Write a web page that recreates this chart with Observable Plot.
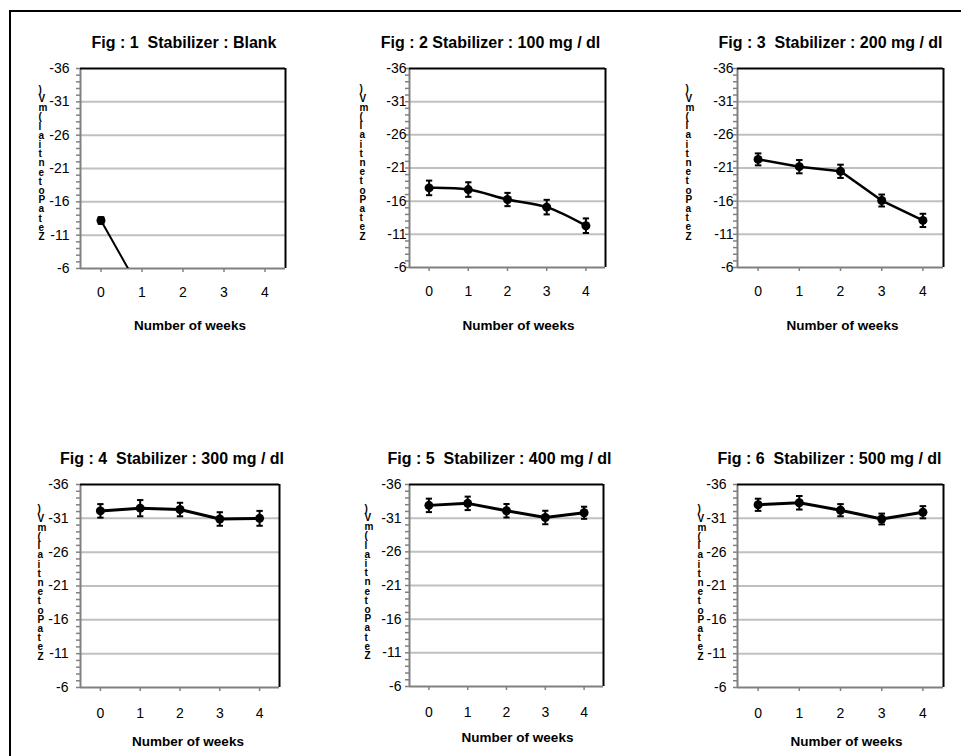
<!DOCTYPE html>
<html>
<head>
<meta charset="utf-8">
<script src="https://cdn.jsdelivr.net/npm/d3@7"></script>
<script src="https://cdn.jsdelivr.net/npm/@observablehq/plot@0.6"></script>
<style>
  html, body { margin: 0; padding: 0; background: #fff; overflow: hidden; }
  #wrap { position: relative; width: 961px; height: 756px; overflow: hidden; background: #fff; }
  #border { position: absolute; left: 9px; top: 10px; width: 1000px; height: 800px; border: 2px solid #000; }
  .panel { position: absolute; }
</style>
</head>
<body>
<div id="wrap"><div id="border"></div></div>
<script>
// ---- data ----
const weeks = [0, 1, 2, 3, 4];
const yTicks = [-36, -31, -26, -21, -16, -11, -6];
const gridValues = [-31, -26, -21, -16, -11];
const yLabel = "Zeta Potential (mV)";
const xLabel = "Number of weeks";

const titles = [
  "Fig : 1  Stabilizer : Blank",
  "Fig : 2 Stabilizer : 100 mg / dl",
  "Fig : 3  Stabilizer : 200 mg / dl",
  "Fig : 4  Stabilizer : 300 mg / dl",
  "Fig : 5  Stabilizer : 400 mg / dl",
  "Fig : 6  Stabilizer : 500 mg / dl"
];

const blankWeeks = [0, 1];
const blankZeta = [-13.2, -2.3];
const blankErr = [0.5, 0.5];

const zeta100 = [-18.0, -17.75, -16.25, -15.1, -12.3];
const err100 = [1.1, 1.1, 1.0, 1.1, 1.1];

const zeta200 = [-22.3, -21.2, -20.5, -16.1, -13.1];
const err200 = [0.9, 1.0, 1.0, 0.9, 1.0];

const zeta300 = [-32.1, -32.5, -32.3, -30.9, -31.0];
const err300 = [1.0, 1.2, 1.0, 1.0, 1.1];

const zeta400 = [-32.9, -33.2, -32.1, -31.1, -31.8];
const err400 = [1.0, 1.0, 1.0, 1.0, 0.9];

const zeta500 = [-33.0, -33.3, -32.2, -30.9, -31.9];
const err500 = [0.9, 1.0, 0.9, 0.8, 0.9];

const series = [
  {w: blankWeeks, z: blankZeta, e: blankErr},
  {w: weeks, z: zeta100, e: err100},
  {w: weeks, z: zeta200, e: err200},
  {w: weeks, z: zeta300, e: err300},
  {w: weeks, z: zeta400, e: err400},
  {w: weeks, z: zeta500, e: err500}
];

// ---- layout (positions/styles) ----
const layout = [
  {sx: 0,   sy: 0,   h: 345, ml: 80, mr: 35, mt: 68, mb: 77, pad: 11, xpad: 15, tdx: 1,   tdy: -26, xdx: 7,  xdy: 57, ldx: -42, ldy: -5, curve: "linear", sw: 2},
  {sx: 320, sy: 0,   h: 345, ml: 89, mr: 35, mt: 68, mb: 78, pad: 3,  xpad: 15, tdx: -17, tdy: -26, xdx: 11, xdy: 58, ldx: -50, ldy: -5, curve: "catmull-rom", sw: 2.5},
  {sx: 640, sy: 0,   h: 345, ml: 97, mr: 17, mt: 68, mb: 78, pad: 4,  xpad: 15, tdx: -10, tdy: -26, xdx: 2,  xdy: 58, ldx: -52, ldy: -5, curve: "linear", sw: 2.5},
  {sx: 0,   sy: 420, h: 336, ml: 80, mr: 41, mt: 64, mb: 69, pad: 12, xpad: 17, tdx: -8,  tdy: -26, xdx: 8,  xdy: 54, ldx: -43, ldy: -3, curve: "linear", sw: 3},
  {sx: 320, sy: 420, h: 336, ml: 89, mr: 37, mt: 64, mb: 70, pad: 8,  xpad: 17, tdx: -7,  tdy: -26, xdx: 11, xdy: 51, ldx: -45, ldy: -3, curve: "linear", sw: 3},
  {sx: 640, sy: 420, h: 336, ml: 97, mr: 17, mt: 64, mb: 69, pad: 11, xpad: 17, tdx: -11, tdy: -26, xdx: 6,  xdy: 54, ldx: -40, ldy: -3, curve: "linear", sw: 3}
];

const stacked = yLabel.replace(/\s/g, "").split("").reverse().join("\n");
const font = "'Liberation Sans', Arial, Helvetica, sans-serif";
const wrap = document.getElementById("wrap");

series.forEach((s, i) => {
  const L = layout[i];
  const rows = s.w.map((w, k) => ({week: w, zeta: s.z[k], err: s.e[k]}));
  const chart = Plot.plot({
    width: 320,
    height: L.h,
    marginLeft: L.ml, marginRight: L.mr, marginTop: L.mt, marginBottom: L.mb,
    x: {domain: [-0.5, 4.5], axis: null},
    y: {domain: [-36, -6], reverse: true, axis: null},
    style: {fontFamily: font, fontSize: "14px", color: "#000", background: "transparent", overflow: "visible"},
    marks: [
      Plot.ruleY(gridValues, {stroke: "#c0c0c0", strokeWidth: 2}),
      Plot.axisY({ticks: d3.range(-36, -5, 1), tickSize: 4, tickFormat: () => "", label: null, stroke: "#808080", strokeWidth: 1.5}),
      Plot.axisY({ticks: yTicks, tickSize: 0, tickPadding: L.pad, tickFormat: d => String(d), label: null, fontSize: 14}),
      Plot.ruleX([-0.5], {stroke: "#808080", strokeWidth: 2}),
      Plot.ruleX([4.5], {stroke: "#000", strokeWidth: 2}),
      Plot.ruleY([-36], {stroke: "#000", strokeWidth: 2}),
      Plot.ruleY([-6], {stroke: "#808080", strokeWidth: 2}),
      Plot.axisX({ticks: weeks, tickSize: 4, tickPadding: L.xpad, label: null, stroke: "#808080", strokeWidth: 1.5, tickFormat: d => String(d), fontSize: 14}),
      Plot.ruleX(rows, {x: "week", y1: d => d.zeta - d.err, y2: d => d.zeta + d.err, stroke: "#000", strokeWidth: 2, clip: true}),
      Plot.link(rows, {x1: d => d.week - 0.08, x2: d => d.week + 0.08, y1: d => d.zeta - d.err, y2: d => d.zeta - d.err, stroke: "#000", strokeWidth: 2, clip: true}),
      Plot.link(rows, {x1: d => d.week - 0.08, x2: d => d.week + 0.08, y1: d => d.zeta + d.err, y2: d => d.zeta + d.err, stroke: "#000", strokeWidth: 2, clip: true}),
      Plot.line(rows, {x: "week", y: "zeta", stroke: "#000", strokeWidth: L.sw, curve: L.curve, clip: true}),
      Plot.dot(rows, {x: "week", y: "zeta", r: 4.5, fill: "#000", stroke: "none", clip: true}),
      Plot.text([titles[i]], {text: d => d, frameAnchor: "top", dx: L.tdx, dy: L.tdy, lineAnchor: "middle", fontWeight: "bold", fontSize: 16}),
      Plot.text([xLabel], {text: d => d, frameAnchor: "bottom", dx: L.xdx, dy: L.xdy, lineAnchor: "middle", fontWeight: "bold", fontSize: 13.5}),
      Plot.text([stacked], {text: d => d, frameAnchor: "left", dx: L.ldx, dy: L.ldy, lineAnchor: "middle", lineHeight: 0.92, fontWeight: "bold", fontSize: 10})
    ]
  });
  chart.classList.add("panel");
  chart.style.left = L.sx + "px";
  chart.style.top = L.sy + "px";
  wrap.appendChild(chart);
});
</script>
</body>
</html>
